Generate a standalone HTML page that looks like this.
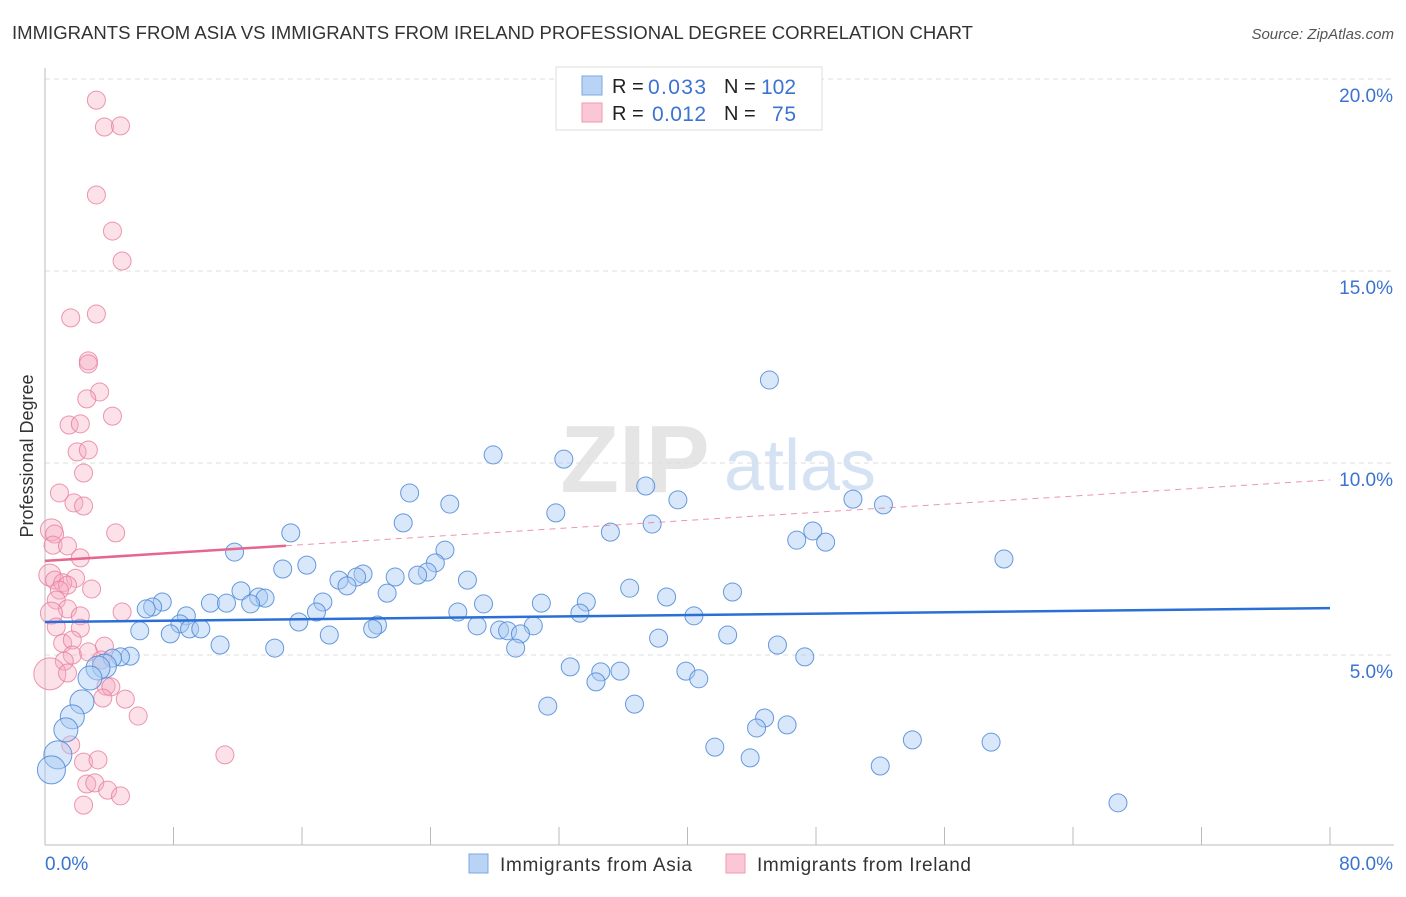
<!DOCTYPE html>
<html><head><meta charset="utf-8">
<style>
html,body{margin:0;padding:0;background:#fff;}
body{width:1406px;height:892px;overflow:hidden;font-family:"Liberation Sans",sans-serif;}
svg text{font-family:"Liberation Sans",sans-serif;}
</style></head>
<body>
<svg id="chart" width="1406" height="892" xmlns="http://www.w3.org/2000/svg">
<text x="12" y="39" font-size="18" fill="#333" textLength="961" lengthAdjust="spacingAndGlyphs">IMMIGRANTS FROM ASIA VS IMMIGRANTS FROM IRELAND PROFESSIONAL DEGREE CORRELATION CHART</text>
<text x="1394" y="39" font-size="15" fill="#555" text-anchor="end" font-style="italic">Source: ZipAtlas.com</text>
<text x="0" y="0" font-size="18" fill="#333" text-anchor="middle" transform="translate(33,456) rotate(-90)">Professional Degree</text>
<g>
<text x="635" y="492" font-size="96" fill="#ccc" fill-opacity="0.5" text-anchor="middle" font-family="Liberation Serif" font-weight="bold">ZIP</text>
<text x="800" y="490" font-size="72" fill="#a9c6ea" fill-opacity="0.5" text-anchor="middle">atlas</text>
</g>
<g id="grid"></g>
<g id="axes"></g>
<g id="pink"></g>
<g id="blue"></g>
<g id="trends"></g>
<g>
<rect x="556" y="67" width="266" height="63" fill="#fff" stroke="#ddd"/>
<rect x="582" y="76" width="20" height="19" fill="#b9d3f5" stroke="#7aa7e3"/>
<rect x="582" y="103" width="20" height="19" fill="#fbc6d5" stroke="#ee9ab3"/>
<text x="612" y="93" font-size="20" fill="#222">R =</text>
<text x="648" y="94" font-size="21" fill="#3a73d0" textLength="58">0.033</text>
<text x="724" y="93" font-size="20" fill="#222">N =</text>
<text x="761" y="94" font-size="21" fill="#3a73d0" textLength="35">102</text>
<text x="612" y="120" font-size="20" fill="#222">R =</text>
<text x="652" y="121" font-size="21" fill="#3a73d0" textLength="54">0.012</text>
<text x="724" y="120" font-size="20" fill="#222">N =</text>
<text x="772" y="121" font-size="21" fill="#3a73d0" textLength="24">75</text>
</g>
<g>
<rect x="469" y="854" width="19" height="19" fill="#b9d3f5" stroke="#7aa7e3"/>
<text x="500" y="871" font-size="19" fill="#333" textLength="192">Immigrants from Asia</text>
<rect x="726" y="854" width="19" height="19" fill="#fbc6d5" stroke="#ee9ab3"/>
<text x="757" y="871" font-size="19" fill="#333" textLength="214">Immigrants from Ireland</text>
</g>
</svg>
<script>
const yTicks=[5,10,15,20];
const yTickLabels=["5.0%","10.0%","15.0%","20.0%"];
const xEndLabels=["0.0%","80.0%"];
const blueX=[45.1,27.9,32.3,22.7,37.4,25.2,39.4,50.3,52.2,31.8,22.3,37.8,15.3,35.2,47.8,46.8,48.6,11.8,24.9,59.7,16.3,14.8,24.3,23.8,23.2,19.8,19.4,18.3,21.8,26.3,18.8,36.4,12.2,42.8,21.3,13.3,13.7,38.7,7.3,6.7,6.3,10.3,11.3,12.8,17.3,27.3,30.9,33.7,16.9,25.7,33.3,40.4,8.8,15.8,20.7,20.4,8.4,9.0,9.7,5.9,7.8,17.7,26.9,28.3,28.8,30.4,29.6,38.2,42.5,29.3,10.9,14.3,45.6,47.3,5.3,4.7,4.2,3.7,3.3,32.7,34.6,35.8,39.9,34.3,40.7,2.8,2.3,1.7,31.3,36.7,44.8,44.3,46.2,1.3,0.8,0.4,41.7,54.0,58.9,43.9,52.0,66.8];
const blueY=[12.16,10.21,10.10,9.22,9.40,8.93,9.04,9.06,8.91,8.70,8.44,8.41,8.18,8.20,8.23,7.99,7.94,7.68,7.73,7.50,7.34,7.24,7.40,7.16,7.08,7.11,7.03,6.95,7.03,6.95,6.80,6.74,6.67,6.64,6.61,6.51,6.48,6.51,6.38,6.25,6.20,6.35,6.35,6.33,6.38,6.33,6.35,6.38,6.12,6.12,6.09,6.02,6.02,5.86,5.78,5.68,5.81,5.68,5.68,5.63,5.55,5.52,5.76,5.65,5.63,5.76,5.55,5.44,5.52,5.18,5.26,5.18,5.26,4.95,4.97,4.95,4.92,4.71,4.66,4.69,4.56,4.58,4.58,4.30,4.38,4.40,3.78,3.39,3.67,3.72,3.36,3.10,3.18,3.05,2.40,2.01,2.60,2.79,2.73,2.32,2.11,1.15];
const pinkX=[3.2,3.7,4.7,3.2,4.2,4.8,1.6,3.2,2.7,2.7,3.4,2.6,4.2,1.5,2.2,2.0,2.7,2.4,0.9,1.8,2.4,0.4,0.6,4.4,0.5,1.4,2.2,0.3,0.6,1.9,1.1,1.4,0.9,2.9,0.7,1.4,0.4,2.2,4.8,0.7,2.2,1.1,1.7,3.7,2.7,1.7,1.2,3.5,0.3,1.4,3.8,4.1,3.6,5.0,5.8,1.6,11.2,2.4,3.3,2.6,3.1,3.9,4.7,2.4];
const pinkY=[19.45,18.75,18.78,16.98,16.04,15.26,13.78,13.88,12.66,12.58,11.85,11.67,11.22,10.99,11.02,10.29,10.34,9.74,9.22,8.96,8.88,8.26,8.15,8.18,7.86,7.84,7.53,7.08,6.95,7.00,6.88,6.82,6.69,6.72,6.43,6.20,6.09,6.02,6.12,5.73,5.70,5.31,5.39,5.23,5.08,5.00,4.84,4.87,4.51,4.53,4.19,4.17,3.88,3.85,3.41,2.66,2.40,2.21,2.27,1.64,1.67,1.48,1.33,1.09];
const blueTrend=[5.86,6.22];
const pinkTrend=[7.45,9.56];
const pinkSolidEnd=15;
const NS="http://www.w3.org/2000/svg";
function X(v){return 45+v*1285/80;}
function Y(v){return 847-v*38.4;}
function mk(tag,attrs,parent){const e=document.createElementNS(NS,tag);for(const k in attrs)e.setAttribute(k,attrs[k]);parent.appendChild(e);return e;}
const grid=document.getElementById('grid'),axes=document.getElementById('axes');
yTicks.forEach((t,i)=>{
  const l=mk('line',{x1:45,x2:1394,y1:Y(t),y2:Y(t),stroke:'#ddd','stroke-dasharray':'5,4'},grid);
  
  
  const tx=mk('text',{x:1393,y:Y(t)+23,'font-size':19,fill:'#3a73d0','text-anchor':'end'},axes);
  tx.textContent=yTickLabels[i];
  
  
});
const xa=mk('line',{x1:45,x2:1394,y1:845,y2:845,stroke:'#bbb'},axes);


const ya=mk('line',{x1:45,x2:45,y1:68,y2:845,stroke:'#bbb'},axes);


for(let i=0;i<=10;i++){
  const t=mk('line',{x1:X(i*8),x2:X(i*8),y1:827,y2:845,stroke:'#bbb'},axes);
  
  
}
const xl0=mk('text',{x:45,y:870,'font-size':19,fill:'#3a73d0'},axes);xl0.textContent=xEndLabels[0];


const xl1=mk('text',{x:1393,y:870,'font-size':19,fill:'#3a73d0','text-anchor':'end'},axes);xl1.textContent=xEndLabels[1];


const pg=document.getElementById('pink');
pinkX.forEach((x,i)=>{
  const r=x<0.5?(pinkY[i]<5?16:11):9;
  const c=mk('circle',{cx:X(x),cy:Y(pinkY[i]),r:r,fill:'#f7a8c0','fill-opacity':0.35,stroke:'#e77d9e','stroke-opacity':0.8,'stroke-width':1},pg);
  
  
});
const bg=document.getElementById('blue');
blueX.forEach((x,i)=>{
  const r=x<1?14:(x<4?12:9);
  const c=mk('circle',{cx:X(x),cy:Y(blueY[i]),r:r,fill:'#a9c9f1','fill-opacity':0.45,stroke:'#4d88d8','stroke-opacity':0.85,'stroke-width':1},bg);
  
  
});
const tg=document.getElementById('trends');
const bl=mk('line',{x1:X(0),y1:Y(blueTrend[0]),x2:X(80),y2:Y(blueTrend[1]),stroke:'#2a6fd6','stroke-width':2.5},tg);


const pm=pinkTrend[0]+(pinkTrend[1]-pinkTrend[0])*pinkSolidEnd/80;
const ps=mk('line',{x1:X(0),y1:Y(pinkTrend[0]),x2:X(pinkSolidEnd),y2:Y(pm),stroke:'#e5668f','stroke-width':2.5},tg);


const pd=mk('line',{x1:X(pinkSolidEnd),y1:Y(pm),x2:X(80),y2:Y(pinkTrend[1]),stroke:'#e5668f','stroke-width':1,'stroke-dasharray':'6,5','stroke-opacity':0.7},tg);


</script>
</body></html>
